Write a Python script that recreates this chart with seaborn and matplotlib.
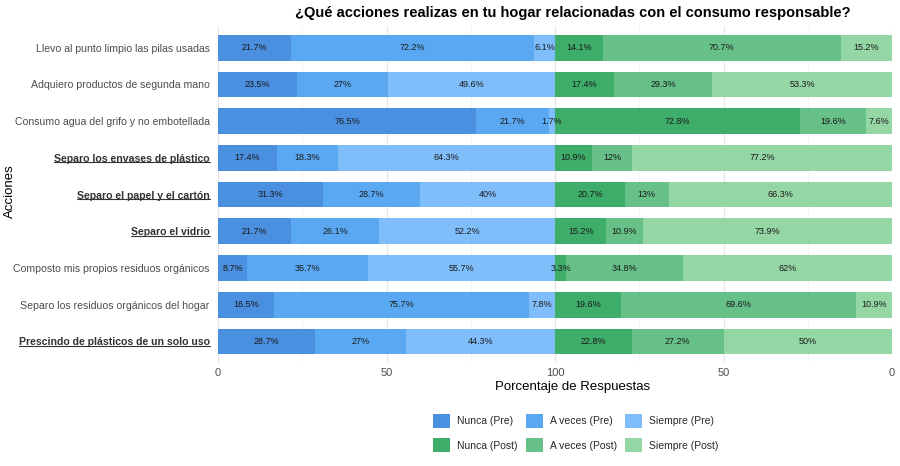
import numpy as np
import pandas as pd
import matplotlib
matplotlib.use("Agg")
import matplotlib.pyplot as plt
import seaborn as sns
from matplotlib.patches import Patch
from matplotlib.lines import Line2D

# --- DATOS ---
acciones = [
    "Llevo al punto limpio las pilas usadas",
    "Adquiero productos de segunda mano",
    "Consumo agua del grifo y no embotellada",
    "Separo los envases de plástico",
    "Separo el papel y el cartón",
    "Separo el vidrio",
    "Composto mis propios residuos orgánicos",
    "Separo los residuos orgánicos del hogar",
    "Prescindo de plásticos de un solo uso",
]
destacadas = [
    "Separo los envases de plástico",
    "Separo el papel y el cartón",
    "Separo el vidrio",
    "Prescindo de plásticos de un solo uso",
]

nunca_pre = [21.7, 23.5, 76.5, 17.4, 31.3, 21.7, 8.7, 16.5, 28.7]
a_veces_pre = [72.2, 27, 21.7, 18.3, 28.7, 26.1, 35.7, 75.7, 27]
siempre_pre = [6.1, 49.6, 1.7, 64.3, 40, 52.2, 55.7, 7.8, 44.3]

nunca_post = [14.1, 17.4, 72.8, 10.9, 20.7, 15.2, 3.3, 19.6, 22.8]
a_veces_post = [70.7, 29.3, 19.6, 12, 13, 10.9, 34.8, 69.6, 27.2]
siempre_post = [15.2, 53.3, 7.6, 77.2, 66.3, 73.9, 62, 10.9, 50]

x_ticks = [0, 50, 100, 150, 200]
x_tick_labels = ["0", "50", "100", "50", "0"]

colores = {
    "Nunca (Pre)": "#4A8FE0",
    "A veces (Pre)": "#5AA8F2",
    "Siempre (Pre)": "#7FBEFA",
    "Nunca (Post)": "#3DAD69",
    "A veces (Post)": "#66C088",
    "Siempre (Post)": "#95D6A5",
}

# --- ESTILO ---
sns.set_theme(style="whitegrid")
plt.rcParams['font.family'] = ['Liberation Sans', 'DejaVu Sans']

df = pd.DataFrame({
    "Accion": acciones,
    "nunca_pre": nunca_pre, "a_veces_pre": a_veces_pre, "siempre_pre": siempre_pre,
    "nunca_post": nunca_post, "a_veces_post": a_veces_post, "siempre_post": siempre_post,
})
# posiciones acumuladas (post empieza en 100)
df["fin_nunca_pre"] = df["nunca_pre"]
df["fin_a_veces_pre"] = df["fin_nunca_pre"] + df["a_veces_pre"]
df["fin_siempre_pre"] = df["fin_a_veces_pre"] + df["siempre_pre"]
df["fin_nunca_post"] = 100 + df["nunca_post"]
df["fin_a_veces_post"] = df["fin_nunca_post"] + df["a_veces_post"]
df["fin_siempre_post"] = df["fin_a_veces_post"] + df["siempre_post"]

fig = plt.figure(figsize=(9, 4.66), dpi=100)
ax = fig.add_axes([0.2422, 0.22, 0.749, 0.725])

# capas: de la barra mas larga a la mas corta
capas = [
    ("fin_siempre_post", "Siempre (Post)"),
    ("fin_a_veces_post", "A veces (Post)"),
    ("fin_nunca_post", "Nunca (Post)"),
    ("fin_siempre_pre", "Siempre (Pre)"),
    ("fin_a_veces_pre", "A veces (Pre)"),
    ("fin_nunca_pre", "Nunca (Pre)"),
]
for col, nombre in capas:
    sns.barplot(data=df, x=col, y="Accion", order=acciones, orient="h",
                color=colores[nombre], saturation=1, width=0.7,
                errorbar=None, linewidth=0, ax=ax)

# etiquetas de porcentaje
segmentos = [
    ("nunca_pre", 0), ("a_veces_pre", "fin_nunca_pre"), ("siempre_pre", "fin_a_veces_pre"),
    ("nunca_post", 100), ("a_veces_post", "fin_nunca_post"), ("siempre_post", "fin_a_veces_post"),
]
for i, row in df.iterrows():
    for val_col, ini in segmentos:
        inicio = ini if isinstance(ini, (int, float)) else row[ini]
        v = row[val_col]
        ax.text(inicio + v / 2, i, f"{v:g}%", ha="center", va="center",
                fontsize=6.5, color="#1a1a1a")

ax.set_xlim(0, 200)
ax.set_ylim(8.6, -0.6)
ax.set_xticks(x_ticks)
ax.set_xticklabels(x_tick_labels)
ax.set_xticks([25, 75, 125, 175], minor=True)
ax.grid(axis="x", which="major", color="#E6E6E6", linewidth=0.9)
ax.grid(axis="x", which="minor", color="#F2F2F2", linewidth=0.6)
ax.grid(axis="y", visible=False)
ax.set_axisbelow(True)
for s in ax.spines.values():
    s.set_visible(False)
ax.tick_params(axis="both", length=0)
ax.tick_params(axis="x", labelsize=8, colors="#4D4D4D", pad=3)
ax.tick_params(axis="y", labelsize=7.6, colors="#4D4D4D", pad=6)
ax.set_xlabel("")
ax.set_ylabel("")

for lab in ax.get_yticklabels():
    if lab.get_text() in destacadas:
        lab.set_fontweight("bold")
        lab.set_color("#333333")

fig.text(0.636, 0.972, "¿Qué acciones realizas en tu hogar relacionadas con el consumo responsable?",
         ha="center", va="center", fontsize=10.5, fontweight="bold", color="black")
fig.text(0.636, 1 - 387 / 466, "Porcentaje de Respuestas", ha="center", va="center",
         fontsize=9.5, color="black")
fig.text(0.011, 1 - 191 / 466, "Acciones", ha="center", va="center", rotation=90,
         fontsize=9.5, color="black")

# leyenda (relleno por columnas -> filas Pre / Post)
orden = ["Nunca (Pre)", "Nunca (Post)", "A veces (Pre)", "A veces (Post)",
         "Siempre (Pre)", "Siempre (Post)"]
handles = [Patch(facecolor=colores[n], edgecolor="none") for n in orden]
fig.legend(handles, orden, loc="center", bbox_to_anchor=(0.640, 1 - 433 / 466),
           ncol=3, frameon=False, fontsize=7.5, handlelength=1.6, handleheight=1.6,
           handletextpad=0.7, columnspacing=0.8, labelspacing=1.05)

# subrayado de las acciones destacadas
fig.canvas.draw()
renderer = fig.canvas.get_renderer()
for lab in ax.get_yticklabels():
    if lab.get_text() in destacadas:
        bb = lab.get_window_extent(renderer)
        y = (bb.y0 + 1.5) / fig.bbox.height
        fig.add_artist(Line2D([bb.x0 / fig.bbox.width, bb.x1 / fig.bbox.width], [y, y],
                              color="#333333", linewidth=0.8))

fig.savefig("out.png", dpi=100)
